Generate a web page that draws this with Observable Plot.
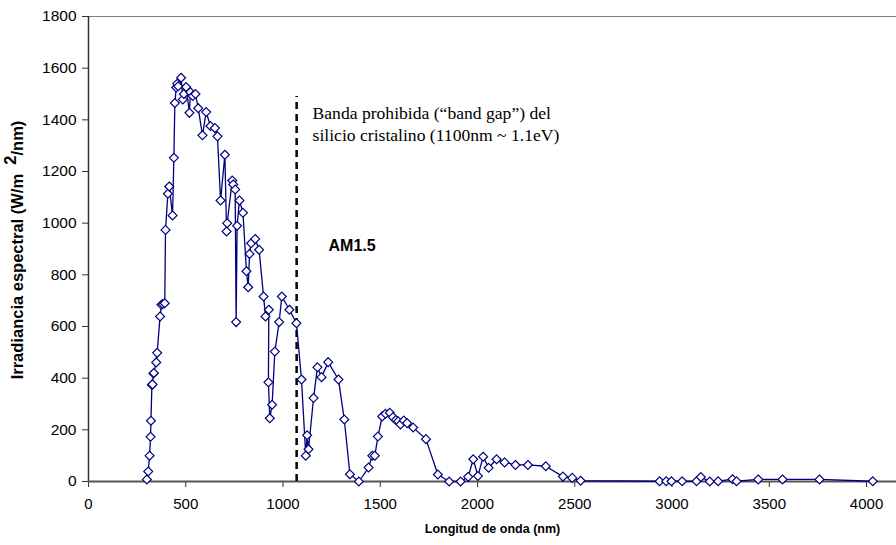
<!DOCTYPE html>
<html>
<head>
<meta charset="utf-8">
<script src="https://cdn.jsdelivr.net/npm/d3@7"></script>
<script src="https://cdn.jsdelivr.net/npm/@observablehq/plot@0.6"></script>
<style>
  html, body { margin: 0; padding: 0; background: #fff; }
  #chart svg { display: block; }
</style>
</head>
<body>
<div id="chart"></div>
<script>
// Wavelength (nm)
const wavelength = [
  300, 307, 314, 319, 321, 326, 329, 334, 336, 348, 353, 368, 375, 382, 392,
  396, 408, 415, 432, 439, 444, 451, 456, 461, 476, 485, 490, 502, 519, 524,
  536, 550, 564, 586, 605, 627, 650, 663, 679, 701, 710, 713, 739, 744, 754,
  759, 764, 776, 794, 812, 821, 828, 836, 857, 877, 900, 910, 927, 925, 932,
  944, 958, 980, 994, 1033, 1069, 1095, 1117, 1124, 1131, 1157, 1177, 1198, 1232, 1285,
  1315, 1344, 1390, 1440, 1459, 1472, 1488, 1510, 1527, 1549, 1565, 1580, 1592, 1604, 1621,
  1638, 1669, 1735, 1796, 1854, 1913, 1952, 1978, 2002, 2029, 2057, 2098, 2139, 2195, 2259,
  2351, 2439, 2487, 2530, 2936, 2970, 2997, 3052, 3126, 3148, 3194, 3237, 3311, 3332, 3443,
  3568, 3758, 4032
];
// Spectral irradiance (W/m2/nm)
const irradiance = [
  8, 39, 100, 173, 235, 374, 376, 418, 420, 461, 498, 639, 684, 687, 690,
  974, 1114, 1142, 1030, 1253, 1465, 1525, 1540, 1530, 1563, 1479, 1500, 1527, 1427, 1507,
  1492, 1500, 1445, 1340, 1430, 1376, 1368, 1336, 1088, 1265, 968, 1000, 1165, 1150, 1130,
  617, 990, 1088, 1040, 814, 752, 881, 922, 939, 897, 716, 639, 665, 384, 245,
  297, 503, 617, 716, 665, 613, 395, 100, 179, 125, 323, 442, 404, 462, 395,
  240, 28, 0, 54, 100, 100, 174, 252, 262, 266, 249, 238, 233, 221, 236,
  226, 209, 164, 27, 0, 0, 18, 86, 21, 96, 53, 86, 74, 64, 64,
  59, 19, 14, 3, 1, 1, 1, 1, 1, 17, 0, 1, 9, 1, 8,
  8, 8, 1
];
const xTicks = [0, 500, 1000, 1500, 2000, 2500, 3000, 3500, 4000];
const yTicks = [0, 200, 400, 600, 800, 1000, 1200, 1400, 1600, 1800];
const bandGapX = [1070];
const bandGapTop = [1490];
const noteLines = ["Banda prohibida (\u201Cband gap\u201D) del", "silicio cristalino (1100nm ~ 1.1eV)"];
const seriesLabel = ["AM1.5"];
const xTitle = "Longitud de onda (nm)";
const yTitleParts = ["Irradiancia espectral (W/m  ", "2", "/nm)"];

const data = wavelength.map((w, i) => ({w, v: irradiance[i]}));

const navy = "#000080";
const chart = Plot.plot({
  width: 896,
  height: 545,
  marginLeft: 88,
  marginTop: 16,
  marginRight: 0,
  marginBottom: 64,
  style: {fontFamily: "Arial, 'Liberation Sans', sans-serif", fontSize: "15px", color: "#000", background: "#fff", overflow: "visible"},
  x: {domain: [0, 4154], label: null},
  y: {domain: [0, 1800], label: null},
  marks: [
    Plot.ruleY([1800], {stroke: "#808080", strokeWidth: 1}),
    Plot.axisX({ticks: xTicks, tickSize: 6, tickPadding: 11, tickFormat: d => String(d), label: null, stroke: "#333", fontSize: 15}),
    Plot.axisY({ticks: yTicks, tickSize: 6, tickPadding: 6, tickFormat: d => String(d), label: null, stroke: "#333", fontSize: 15.5}),
    Plot.ruleX([0], {stroke: "#333", strokeWidth: 1.5}),
    Plot.ruleY([0], {stroke: "#555", strokeWidth: 2}),
    Plot.ruleX(bandGapX, {y1: 0, y2: bandGapTop[0], stroke: "#000", strokeWidth: 2.5, strokeDasharray: "7,5"}),
    Plot.line(data, {x: "w", y: "v", stroke: navy, strokeWidth: 1.3}),
    Plot.dot(data, {x: "w", y: "v", symbol: "diamond2", r: 4, stroke: navy, fill: "white", strokeWidth: 1.2}),
    Plot.text([noteLines.join("\n")], {x: 1152, y: 1417, text: d => d, textAnchor: "start", lineAnchor: "top", lineHeight: 1.2, fontFamily: "'Liberation Serif', 'Times New Roman', serif", fontSize: 17.6, fill: "#000", dy: -11}),
    Plot.text(seriesLabel, {x: 1234, y: 911, text: d => d, textAnchor: "start", fontWeight: "bold", fontSize: 16, fill: "#000"}),
    Plot.text([xTitle], {frameAnchor: "bottom", dy: 51, text: d => d, fontWeight: "bold", fontSize: 12.5, fill: "#000"})
  ]
});

document.getElementById("chart").appendChild(chart);

// rotated y-axis title with superscript
const svg = d3.select(chart);
const yTitle = svg.append("text")
  .attr("transform", "translate(23,250) rotate(-90)")
  .attr("text-anchor", "middle")
  .attr("font-family", "Arial, 'Liberation Sans', sans-serif")
  .attr("font-weight", "bold")
  .attr("font-size", 16.5)
  .attr("xml:space", "preserve")
  .style("white-space", "pre")
  .attr("fill", "#000");
yTitle.append("tspan").text(yTitleParts[0]);
yTitle.append("tspan").attr("dy", "-0.45em").text(yTitleParts[1]);
yTitle.append("tspan").attr("dy", "0.45em").text(yTitleParts[2]);
</script>
</body>
</html>
